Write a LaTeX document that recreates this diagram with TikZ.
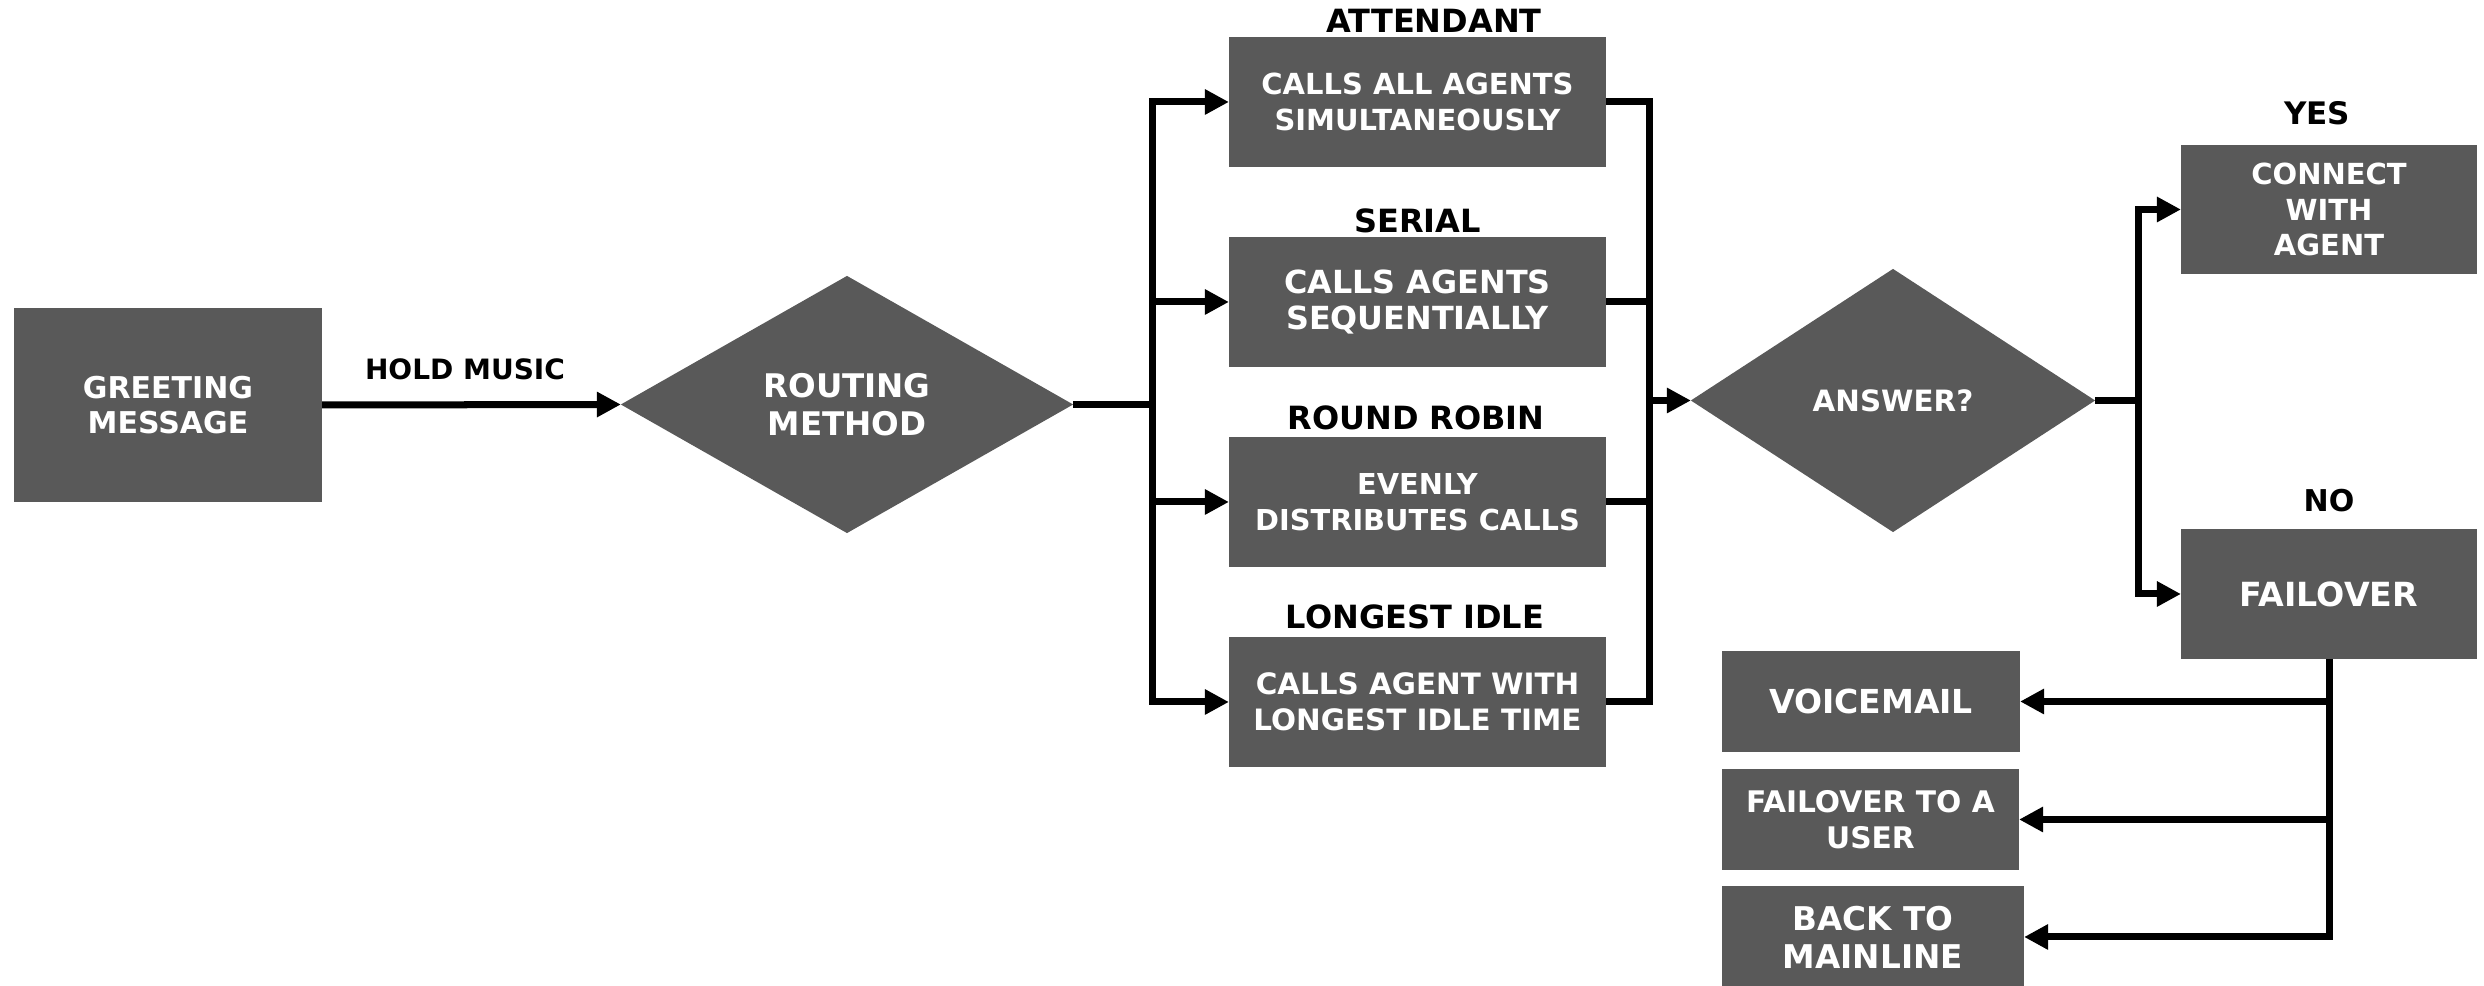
\documentclass[tikz,border=0pt]{standalone}
\usepackage{fontspec}
\setmainfont{DejaVu Sans}
\usetikzlibrary{arrows.meta,shapes.geometric}
\definecolor{boxgray}{RGB}{89,89,89}
\tikzset{
  box/.style={rectangle, fill=boxgray, text=white, inner sep=0pt, outer sep=0pt,
    align=center, font=\bfseries},
  decision/.style={diamond, fill=boxgray, text=white, inner sep=0pt, outer sep=0pt,
    align=center, font=\bfseries},
  caption/.style={inner sep=0pt, anchor=base, text=black, font=\bfseries},
  link/.style={line width=0.07cm, black},
  arr/.style={link, -{Triangle[length=0.24cm,width=0.24cm]}},
}
\newcommand{\fsz}[2]{\fontsize{#1}{#2}\selectfont}
\begin{document}
\begin{tikzpicture}[x=0.01cm,y=-0.01cm]
\useasboundingbox (0,0) rectangle (2484,986);

% entry
\node[box, minimum width=3.08cm, minimum height=1.94cm, font=\bfseries\fsz{8.54}{9.96}]
  (greet) at (168,405) {GREETING\\MESSAGE};
\node[decision, minimum width=4.52cm, minimum height=2.57cm, font=\bfseries\fsz{9.25}{10.8}]
  (routing) at (847,404.5) {ROUTING\\METHOD};
\node[caption, font=\bfseries\fsz{7.97}{9}] (hold) at (465,380) {HOLD MUSIC};

% routing strategies
\node[box, minimum width=3.77cm, minimum height=1.30cm, font=\bfseries\fsz{8.25}{10.24}]
  (b1) at (1417.5,102) {CALLS ALL AGENTS\\SIMULTANEOUSLY};
\node[box, minimum width=3.77cm, minimum height=1.30cm, font=\bfseries\fsz{9.05}{10.24}]
  (b2) at (1417.5,302) {CALLS AGENTS\\SEQUENTIALLY};
\node[box, minimum width=3.77cm, minimum height=1.30cm, font=\bfseries\fsz{8.2}{10.24}]
  (b3) at (1417.5,502) {EVENLY\\DISTRIBUTES CALLS};
\node[box, minimum width=3.77cm, minimum height=1.30cm, font=\bfseries\fsz{8.37}{10.24}]
  (b4) at (1417.5,702) {CALLS AGENT WITH\\LONGEST IDLE TIME};

\node[caption, font=\bfseries\fsz{9.1}{10}] (l1) at (1434,33) {ATTENDANT};
\node[caption, font=\bfseries\fsz{9.1}{10}] (l2) at (1417.5,233) {SERIAL};
\node[caption, font=\bfseries\fsz{9.1}{10}] (l3) at (1416,430) {ROUND ROBIN};
\node[caption, font=\bfseries\fsz{9.1}{10}] (l4) at (1415,629) {LONGEST IDLE};

% answer check
\node[decision, minimum width=4.04cm, minimum height=2.63cm, font=\bfseries\fsz{8.35}{10}]
  (answer) at (1893,400.5) {ANSWER?};
\node[box, minimum width=2.96cm, minimum height=1.29cm, font=\bfseries\fsz{8.25}{10.13}]
  (connect) at (2329,209.5) {CONNECT\\WITH\\AGENT};
\node[box, minimum width=2.96cm, minimum height=1.30cm, font=\bfseries\fsz{9.45}{10.5}]
  (fail) at (2329,594) {FAILOVER};
\node[caption, font=\bfseries\fsz{8.82}{10}] (yes) at (2317,125) {YES};
\node[caption, font=\bfseries\fsz{8.54}{10}] (no) at (2329,512) {NO};

% failover targets
\node[box, minimum width=2.98cm, minimum height=1.01cm, font=\bfseries\fsz{9.39}{10.5}]
  (voice) at (1871,701.5) {VOICEMAIL};
\node[box, minimum width=2.97cm, minimum height=1.01cm, font=\bfseries\fsz{8.45}{10.24}]
  (user) at (1870.5,819.5) {FAILOVER TO A\\USER};
\node[box, minimum width=3.02cm, minimum height=1.01cm, font=\bfseries\fsz{9.3}{10.81}]
  (mainline) at (1873,937) {BACK TO\\MAINLINE};

% connectors
\coordinate (splitL) at (1152,404.5);
\coordinate (joinR) at (1649,400.5);
\coordinate (splitA) at (2138,400.5);

\draw[arr] (greet.east) -- (routing.west);
\draw[link] (routing.east) -- (splitL);
\foreach \b in {b1,b2,b3,b4}{
  \draw[arr] (splitL) |- (\b.west);
  \draw[link] (\b.east) -| (joinR);
}
\draw[arr] (joinR) -- (answer.west);
\draw[link] (answer.east) -- (splitA);
\draw[arr] (splitA) |- (connect.west);
\draw[arr] (splitA) |- (fail.west);
\draw[arr] (fail.south) |- (voice.east);
\draw[arr] (fail.south) |- (user.east);
\draw[arr] (fail.south) |- (mainline.east);
\end{tikzpicture}
\end{document}
